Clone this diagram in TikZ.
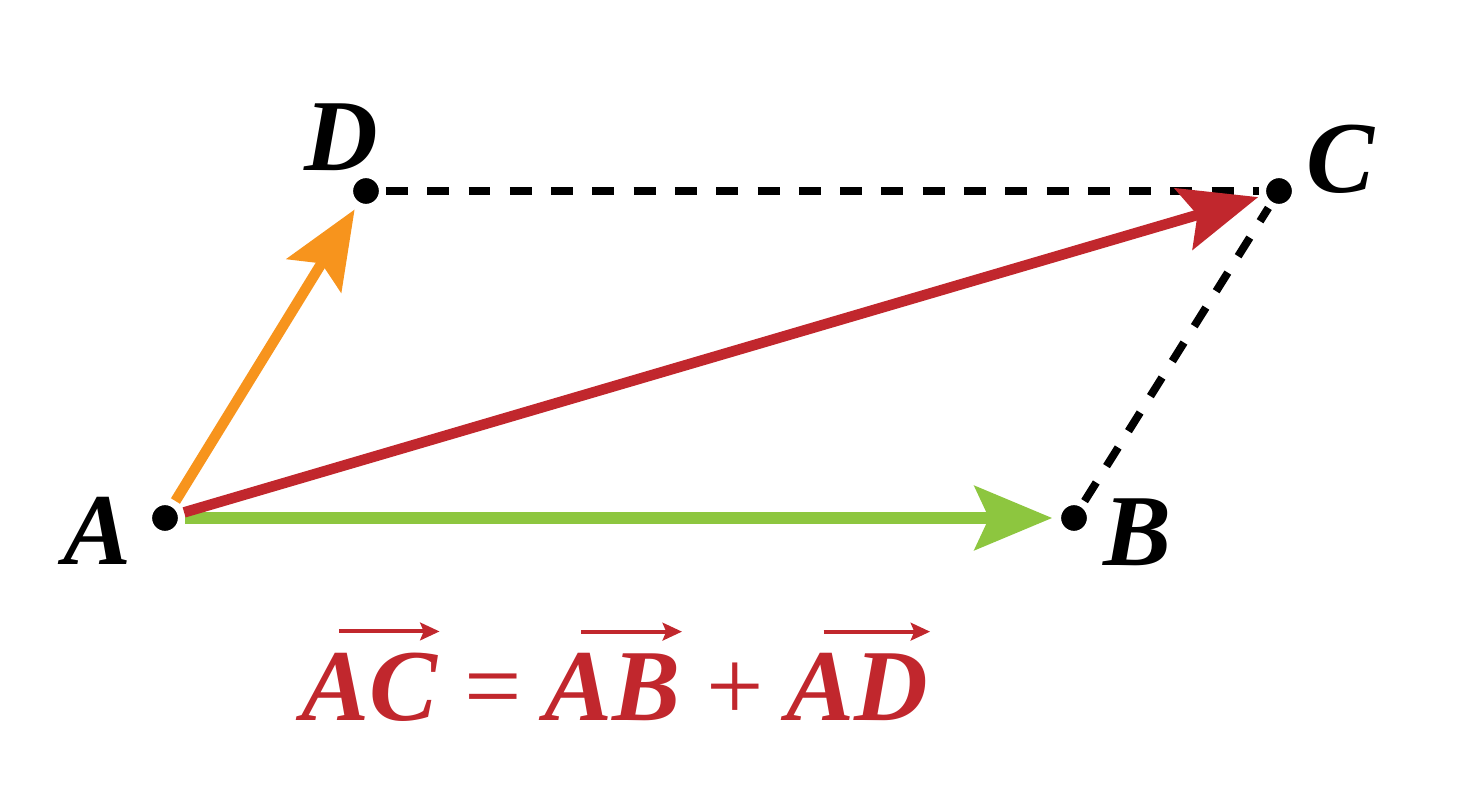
\RequirePackage{fix-cm}
\documentclass[tikz,border=0pt]{standalone}
\usepackage{amsmath}
\usepackage{fontspec}
\setmainfont{Liberation Serif}
\usetikzlibrary{arrows.meta}
\definecolor{vred}{HTML}{C1272D}
\definecolor{vorange}{HTML}{F7941D}
\definecolor{vgreen}{HTML}{8DC63F}
% letters with an arrow over them
\newcommand{\vecname}[1]{\mbox{\tikz[baseline=(v.base)]{\node[inner sep=0pt, outer sep=0pt] (v) {\itshape\bfseries #1};
\draw[vred, line width=2.3pt, -{Stealth[length=11pt, width=10pt, inset=2pt]}] ([xshift=21pt, yshift=12pt]v.north west) -- ([xshift=1pt, yshift=12pt]v.north east);}}}
\newcommand{\opsign}[1]{\mathbin{\mbox{\upshape\mdseries #1}}}
\begin{document}
\begin{tikzpicture}[x=0.02cm, y=-0.02cm,
pt/.style={circle, fill=black, draw=white, line width=4pt, inner sep=0pt, minimum size=18.7pt},
lbl/.style={font=\fontsize{58}{60}\selectfont\bfseries\itshape},
vec/.style={line width=6pt, shorten >=1pt, -{Stealth[length=44pt, width=36pt, inset=8pt]}},
side/.style={line width=4.5pt, dash pattern=on 12.5pt off 11pt}]
\useasboundingbox (0,0) rectangle (1465,811);
\node[pt] (A) at (165,518){};
\node[pt] (B) at (1074,518){};
\node[pt] (C) at (1279,191){};
\node[pt] (D) at (366,191){};
\node[lbl] (a) at (97,531){A};
\node[lbl] (b) at (1137,532){B};
\node[lbl] (c) at (1340,159){C};
\node[lbl] (d) at (341,137){D};
\draw[side] (D) -- (C);
\draw[side] (B) -- (C);
\draw[vec, vorange] (A) -- (D);
\draw[vec, vgreen, line width=7pt] (A) -- (B);
\draw[vec, vred] (A) -- (C);
\node[lbl, text=vred, anchor=base] (sum) at (617,720)
{$\vecname{AC}\opsign{=}\vecname{AB}\opsign{+}\vecname{AD}$};
\end{tikzpicture}
\end{document}
